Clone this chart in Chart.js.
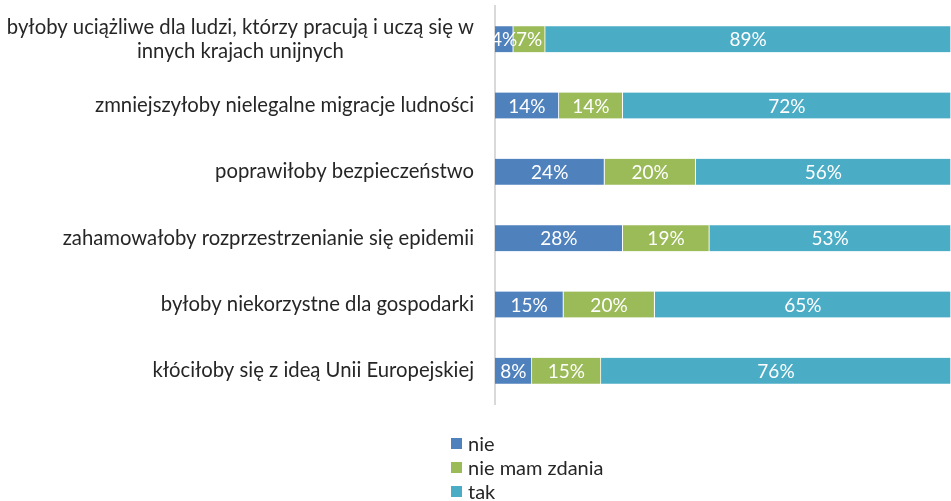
<!DOCTYPE html>
<html>
<head>
<meta charset="utf-8">
<script src="https://cdn.jsdelivr.net/npm/chart.js@4/dist/chart.umd.min.js"></script>
<style>
  html, body { margin: 0; padding: 0; background: #fff; }
  #wrap { position: relative; width: 951px; height: 501px; }
  #legend { position: absolute; left: 451px; top: 431px; font: 20px Lato, "Open Sans", sans-serif; color: #262626; }
  #legend div { height: 24px; line-height: 24px; display: flex; align-items: center; }
  #legend span { display: inline-block; width: 11px; height: 11px; margin-right: 6px; }
</style>
</head>
<body>
<div id="wrap">
  <canvas id="c" width="951" height="501"></canvas>
  <div id="legend"></div>
</div>
<script>
// kategorie (od góry) i wartości w %
const categories = [
  ['byłoby uciążliwe dla ludzi, którzy pracują i uczą się w', 'innych krajach unijnych'],
  'zmniejszyłoby nielegalne migracje ludności',
  'poprawiłoby bezpieczeństwo',
  'zahamowałoby rozprzestrzenianie się epidemii',
  'byłoby niekorzystne dla gospodarki',
  'kłóciłoby się z ideą Unii Europejskiej'
];
const nie = [4, 14, 24, 28, 15, 8];
const nieMamZdania = [7, 14, 20, 19, 20, 15];
const tak = [89, 72, 56, 53, 65, 76];

const seriesNames = ['nie', 'nie mam zdania', 'tak'];
const seriesColors = ['#4f81bd', '#9bbb59', '#4bacc6'];
const series = [nie, nieMamZdania, tak];

const FONT = 'Lato, "Open Sans", sans-serif';

// wykres 100% skumulowany – każdy wiersz do 100
const sums = categories.map((_, i) => series.reduce((s, arr) => s + arr[i], 0));

const barLabels = {
  id: 'barLabels',
  afterDatasetsDraw(chart) {
    const ctx = chart.ctx;
    ctx.save();
    ctx.font = '19px ' + FONT;
    ctx.fillStyle = '#fff';
    ctx.textAlign = 'center';
    ctx.textBaseline = 'middle';
    chart.data.datasets.forEach((ds, di) => {
      chart.getDatasetMeta(di).data.forEach((el, i) => {
        ctx.fillText(ds.raw[i] + '%', (el.x + el.base) / 2, el.y + 1);
      });
    });
    ctx.restore();
  }
};

const catLabels = {
  id: 'catLabels',
  afterDraw(chart) {
    const ctx = chart.ctx, y = chart.scales.y;
    const right = chart.chartArea.left - 21;
    ctx.save();
    ctx.font = '20.3px ' + FONT;
    ctx.fillStyle = '#262626';
    ctx.textAlign = 'center';
    ctx.textBaseline = 'middle';
    categories.forEach((c, i) => {
      const lines = Array.isArray(c) ? c : [c];
      const w = Math.max(...lines.map(l => ctx.measureText(l).width));
      const cy = y.getPixelForTick(i);
      lines.forEach((l, k) => {
        ctx.fillText(l, right - w / 2, cy + (k - (lines.length - 1) / 2) * 24);
      });
    });
    ctx.restore();
  }
};

new Chart(document.getElementById('c'), {
  type: 'bar',
  data: {
    labels: categories,
    datasets: series.map((arr, k) => ({
      label: seriesNames[k],
      raw: arr,
      data: arr.map((v, i) => v / sums[i] * 100),
      backgroundColor: seriesColors[k],
      borderColor: '#ffffff',
      borderWidth: { left: 0, right: 1, top: 0, bottom: 0 },
      borderSkipped: false,
      barThickness: 26
    }))
  },
  options: {
    indexAxis: 'y',
    responsive: false,
    animation: false,
    layout: { padding: { top: 6, bottom: 97, right: 0, left: 0 } },
    plugins: { legend: { display: false }, tooltip: { enabled: false } },
    scales: {
      x: { stacked: true, min: 0, max: 100, display: false },
      y: {
        stacked: true,
        grid: { display: false },
        border: { color: '#d9d9d9', width: 2 },
        ticks: { display: false },
        afterFit: s => { s.width = 495; }
      }
    }
  },
  plugins: [barLabels, catLabels]
});

document.getElementById('legend').innerHTML = seriesNames.map((n, k) =>
  `<div><span style="background:${seriesColors[k]}"></span>${n}</div>`).join('');
</script>
</body>
</html>
